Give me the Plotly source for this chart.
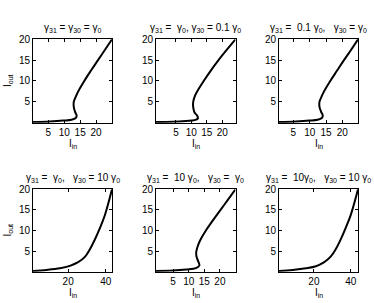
import plotly.graph_objects as go

# Data: (I_in, I_out) along each curve
iin_1 = [0.2, 5.5, 9.7, 12.3, 13.6, 13.9, 13.4, 13.0, 13.0, 13.5, 14.4, 16.3, 18.4, 20.6, 22.8, 25.0]
iout_1 = [0.15, 0.3, 0.5, 0.7, 1.1, 1.7, 2.6, 3.8, 5.0, 6.0, 7.5, 10.0, 12.5, 15.0, 17.5, 20.0]

iin_2 = [-1.45, 4.0, 8.3, 11.0, 12.1, 11.9, 11.0, 10.6, 10.6, 11.2, 12.3, 14.0, 16.3, 18.8, 21.5, 24.3]
iout_2 = [0.15, 0.2, 0.4, 0.6, 1.0, 1.65, 2.5, 3.7, 5.0, 6.5, 8.0, 10.0, 12.5, 15.0, 17.5, 20.0]

iin_3 = [0.6, 5.8, 9.9, 12.4, 13.7, 14.0, 13.5, 13.0, 13.0, 13.5, 14.4, 16.3, 18.4, 20.5, 22.7, 24.8]
iout_3 = [0.15, 0.3, 0.5, 0.7, 1.1, 1.7, 2.6, 3.8, 5.0, 6.0, 7.5, 10.0, 12.5, 15.0, 17.5, 20.0]

iin_4 = [1.3, 8.5, 15.6, 20.9, 25.3, 28.9, 31.5, 34.2, 36.8, 39.5, 43.3]
iout_4 = [0.15, 0.4, 0.8, 1.4, 2.3, 3.6, 5.4, 7.8, 10.5, 13.7, 20.0]

iin_5 = [-0.5, 4.9, 9.2, 12.3, 13.4, 13.1, 12.5, 12.4, 12.8, 13.6, 15.5, 17.8, 20.2, 22.6, 25.0]
iout_5 = [0.15, 0.25, 0.5, 0.85, 1.5, 2.4, 3.6, 4.7, 6.0, 7.5, 10.0, 12.5, 15.0, 17.5, 20.0]

iin_6 = [1.1, 8.5, 15.7, 21.1, 25.6, 29.2, 31.9, 34.6, 37.3, 40.0, 43.9]
iout_6 = [0.15, 0.4, 0.8, 1.3, 2.3, 3.7, 5.5, 7.9, 10.7, 13.8, 20.0]

x_ticks_small = [5, 10, 15, 20]
x_ticks_large = [20, 40]
y_ticks = [5, 10, 15, 20]

titles = [
    "γ<sub>31</sub> = γ<sub>30</sub> = γ<sub>0</sub>",
    "γ<sub>31</sub> =  γ<sub>0</sub>, γ<sub>30</sub> = 0.1 γ<sub>0</sub>",
    "γ<sub>31</sub> =  0.1 γ<sub>0</sub>,   γ<sub>30</sub> = γ<sub>0</sub>",
    "γ<sub>31</sub> =  γ<sub>0</sub>,   γ<sub>30</sub> = 10 γ<sub>0</sub>",
    "γ<sub>31</sub> =  10 γ<sub>0</sub>,   γ<sub>30</sub> =  γ<sub>0</sub>",
    "γ<sub>31</sub> =  10γ<sub>0</sub>,   γ<sub>30</sub> = 10 γ<sub>0</sub>",
]

panels = [
    (iin_1, iout_1, x_ticks_small),
    (iin_2, iout_2, x_ticks_small),
    (iin_3, iout_3, x_ticks_small),
    (iin_4, iout_4, x_ticks_large),
    (iin_5, iout_5, x_ticks_small),
    (iin_6, iout_6, x_ticks_large),
]

W, H = 374, 303
col_px = [(33, 112), (156, 235.5), (279, 358)]
row_px = [(34, 119), (187, 271)]

FONT = "Liberation Sans, Arial, Helvetica, sans-serif"

fig = go.Figure()
layout = dict(
    width=W, height=H,
    margin=dict(l=0, r=0, t=0, b=0),
    paper_bgcolor="white", plot_bgcolor="white",
    showlegend=False,
    font=dict(family=FONT, size=10, color="black"),
)
annotations = []

for i, (xs, ys, xt) in enumerate(panels):
    r, c = divmod(i, 3)
    n = i + 1
    xa = "x" if n == 1 else f"x{n}"
    ya = "y" if n == 1 else f"y{n}"
    fig.add_trace(go.Scatter(
        x=xs, y=ys, mode="lines",
        line=dict(color="black", width=2, shape="spline", smoothing=1.0),
        xaxis=xa, yaxis=ya, hoverinfo="skip",
    ))
    x0, x1 = col_px[c]
    y0, y1 = row_px[r]
    axcommon = dict(
        showline=True, linecolor="black", linewidth=1, mirror="ticks",
        ticks="inside", ticklen=3, tickwidth=1, tickcolor="black",
        showgrid=False, zeroline=False,
        tickfont=dict(family=FONT, size=10, color="black"),
    )
    layout["xaxis" + ("" if n == 1 else str(n))] = dict(
        domain=[x0 / W, x1 / W],
        range=[min(xs), max(xs)],
        tickvals=xt, anchor=ya, **axcommon,
    )
    layout["yaxis" + ("" if n == 1 else str(n))] = dict(
        domain=[1 - y1 / H, 1 - y0 / H],
        range=[0, 20],
        tickvals=y_ticks, anchor=xa, **axcommon,
    )
    annotations.append(dict(
        text=titles[i], x=0.5, y=1, xref=f"{xa} domain", yref=f"{ya} domain",
        xanchor="center", yanchor="bottom", yshift=3, showarrow=False,
        font=dict(family=FONT, size=10, color="black"),
    ))
    annotations.append(dict(
        text="I<sub>in</sub>", x=0.5, y=0, xref=f"{xa} domain", yref=f"{ya} domain",
        xanchor="center", yanchor="top", yshift=-13, showarrow=False,
        font=dict(family=FONT, size=10, color="black"),
    ))
    if c == 0:
        annotations.append(dict(
            text="I<sub>out</sub>", x=0, y=0.5, xref=f"{xa} domain", yref=f"{ya} domain",
            xanchor="right", yanchor="middle", xshift=-17, textangle=-90,
            showarrow=False, font=dict(family=FONT, size=10, color="black"),
        ))

layout["annotations"] = annotations
fig.update_layout(**layout)
fig.write_html(
    "out.html",
    config={"displayModeBar": False, "staticPlot": True},
    post_script="document.body.style.margin='0';document.body.style.padding='0';document.body.style.overflow='hidden';",
)
